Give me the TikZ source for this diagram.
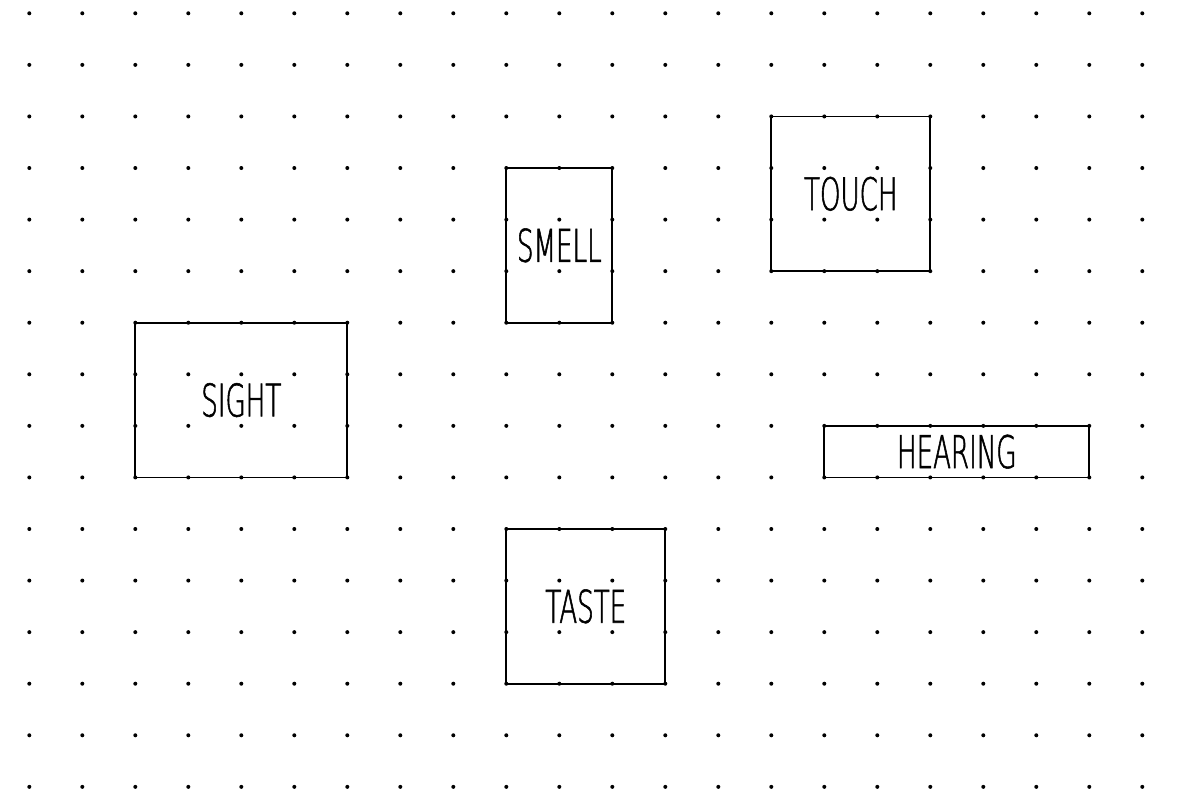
\documentclass[tikz,border=0pt]{standalone}
\usepackage{fontspec}
\newfontfamily\sensefont[FakeStretch=0.58, FakeBold=1.2]{DejaVu Sans ExtraLight}

\def\gx{26.5pt}
\def\gy{25.785pt}

\begin{document}
\begin{tikzpicture}[
  x=\gx, y=-\gy,
  sense/.style={draw, rectangle, line width=0.9pt, inner sep=0pt,
    font=\sensefont\fontsize{22.5}{24}\selectfont}
]
  \useasboundingbox (-0.553,-0.258) rectangle (21.957,15.1);

  % the five boxes, sized in grid cells
  \node[sense, minimum width=4*\gx, minimum height=3*\gy] (sight) at (4,7.5) {SIGHT};
  \node[sense, minimum width=2*\gx, minimum height=3*\gy] (smell) at (10,4.5) {SMELL};
  \node[sense, minimum width=3*\gx, minimum height=3*\gy] (touch) at (15.5,3.5) {TOUCH};
  \node[sense, minimum width=5*\gx, minimum height=1*\gy] (hearing) at (17.5,8.5) {HEARING};
  \node[sense, minimum width=3*\gx, minimum height=3*\gy] (taste) at (10.5,11.5) {TASTE};

  % dot grid
  \foreach \i in {0,...,21}
    \foreach \j in {0,...,15}
      \fill (\i,\j) circle (1pt);
\end{tikzpicture}
\end{document}
